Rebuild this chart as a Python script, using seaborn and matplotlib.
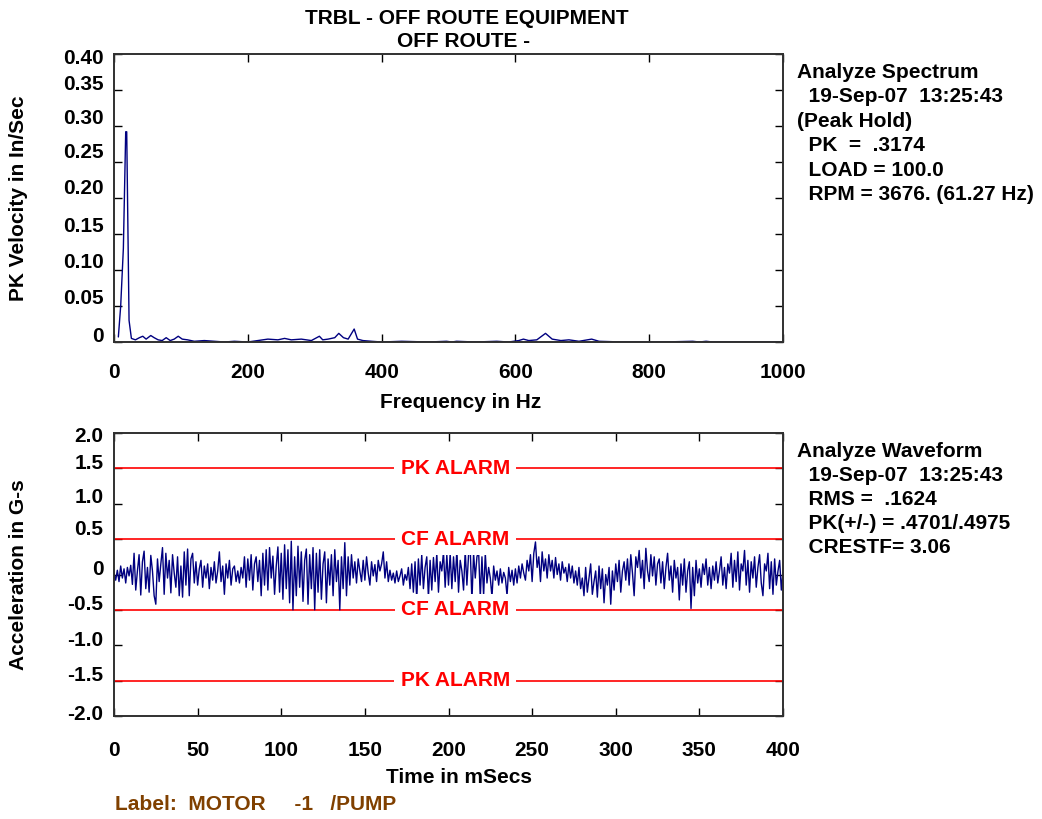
# Vibration analysis plot: peak-hold spectrum on top, time waveform with alarm bands below

import numpy as np
import pandas as pd
import matplotlib
matplotlib.use("Agg")
import matplotlib.pyplot as plt
import matplotlib.transforms as mtransforms
import seaborn as sns

# Step 1: chart data

# spectrum (Hz, in/sec)
spec_freq = [6.5, 10, 14, 17.5, 19, 22.5, 26, 32, 38, 43, 48, 55, 60, 66, 72, 78, 84,
             90, 96, 102, 110, 120, 135, 150, 165, 180, 200, 215, 230, 245, 255, 265, 280,
             295, 307, 312, 320, 330, 336, 343, 350, 359, 364, 372, 385, 400, 430, 470,
             497, 505, 512, 540, 572, 590, 605, 612, 620, 632, 645, 655, 668, 680, 695,
             714, 725, 760, 820, 865, 875, 885, 895, 920, 960, 1000]
spec_amp = [0.007, 0.05, 0.13, 0.292, 0.292, 0.030, 0.005, 0.003, 0.006, 0.008, 0.004,
            0.009, 0.006, 0.003, 0.002, 0.006, 0.002, 0.004, 0.008, 0.004, 0.003, 0.001,
            0.002, 0.001, 0.000, 0.001, 0.000, 0.002, 0.004, 0.003, 0.005, 0.003, 0.004,
            0.002, 0.008, 0.003, 0.004, 0.006, 0.012, 0.006, 0.004, 0.018, 0.004, 0.002,
            0.001, 0.000, 0.001, 0.000, 0.001, 0.000, 0.001, 0.000, 0.001, 0.000, 0.002,
            0.004, 0.002, 0.003, 0.012, 0.004, 0.002, 0.003, 0.001, 0.004, 0.001, 0.000,
            0.000, 0.001, 0.000, 0.001, 0.000, 0.000, 0.000, 0.000]

# waveform, one sample per ms (G-s)
wave_g = [
    0.02, -0.08, 0.06, -0.10, 0.12, -0.05, 0.08, -0.12, 0.10, -0.02, 0.13, -0.14, 0.30, -0.22, 0.05, 0.28, -0.29, 0.18, 0.33, -0.20,
    0.10, -0.25, 0.27, 0.05, -0.30, -0.42, 0.22, -0.10, 0.15, 0.38, -0.28, 0.30, -0.05, 0.20, -0.26, 0.28, 0.02, -0.18, 0.25, -0.30,
    0.12, -0.32, 0.32, -0.15, 0.36, -0.30, 0.22, 0.30, -0.12, 0.18, -0.15, 0.08, 0.20, -0.18, 0.12, -0.05, 0.15, -0.20, 0.10, -0.08,
    0.18, -0.12, 0.05, 0.32, -0.10, 0.12, -0.28, 0.15, -0.05, 0.20, -0.15, 0.08, 0.12, -0.10, 0.05, -0.12, 0.10, -0.05, 0.25, -0.18,
    0.22, -0.08, 0.28, -0.22, 0.15, 0.25, -0.10, 0.20, -0.30, 0.30, -0.15, 0.35, -0.22, 0.38, -0.05, 0.26, -0.28, 0.12, 0.39, -0.25,
    0.30, -0.35, 0.42, -0.20, 0.35, -0.40, 0.47, -0.50, 0.25, -0.30, 0.40, -0.18, 0.32, -0.38, 0.20, 0.36, -0.42, 0.28, -0.20, 0.38,
    -0.50, 0.30, -0.25, 0.35, -0.35, 0.15, 0.32, -0.40, 0.22, -0.15, 0.28, -0.30, 0.35, -0.10, 0.20, -0.50, 0.25, -0.20, 0.45, -0.30,
    0.25, -0.15, 0.28, -0.05, 0.18, -0.12, 0.22, 0.05, -0.10, 0.20, -0.08, 0.25, 0.02, -0.15, 0.18, -0.02, 0.14, -0.10, 0.20, 0.05,
    0.15, 0.32, -0.05, 0.18, -0.10, 0.06, -0.08, 0.02, -0.12, 0.05, -0.10, -0.02, 0.08, -0.15, 0.00, -0.08, 0.10, -0.20, 0.15, -0.25,
    0.18, -0.36, 0.22, -0.15, 0.28, -0.20, 0.10, 0.25, -0.33, 0.20, -0.22, 0.24, -0.10, 0.30, -0.25, 0.18, 0.05, 0.32, -0.18, 0.28,
    -0.15, 0.30, -0.20, 0.25, -0.10, 0.35, -0.25, 0.20, 0.05, -0.22, 0.34, -0.15, 0.28, 0.36, -0.38, 0.30, -0.05, 0.25, 0.33, -0.33,
    0.25, -0.30, 0.30, -0.12, 0.10, -0.05, -0.32, 0.12, -0.08, 0.05, -0.15, 0.08, -0.12, 0.03, -0.05, -0.30, 0.10, -0.10, 0.06, -0.15,
    0.08, -0.12, 0.12, -0.05, 0.15, 0.02, -0.08, 0.20, 0.05, 0.28, -0.10, 0.30, 0.46, 0.10, 0.25, -0.10, 0.32, 0.05, 0.22, -0.05,
    0.28, 0.05, 0.20, -0.05, 0.24, 0.00, 0.15, -0.08, 0.18, 0.02, 0.10, -0.10, 0.15, -0.05, 0.12, -0.12, 0.05, -0.15, 0.10, -0.20,
    -0.05, -0.30, 0.10, -0.25, -0.05, 0.15, -0.28, -0.10, 0.05, -0.32, 0.12, -0.20, 0.08, -0.40, 0.00, -0.15, 0.10, -0.42, 0.05, -0.22,
    0.15, -0.10, 0.20, -0.25, 0.05, 0.18, -0.08, 0.22, -0.15, 0.28, 0.02, -0.30, 0.25, 0.10, 0.34, -0.05, 0.20, -0.20, 0.37, 0.05,
    -0.10, 0.28, -0.02, 0.25, -0.15, 0.15, 0.22, -0.12, 0.18, -0.20, 0.10, 0.30, -0.08, 0.12, -0.25, 0.20, -0.05, 0.10, -0.36, 0.15,
    -0.15, 0.22, -0.25, 0.05, 0.18, -0.48, 0.10, -0.30, 0.20, -0.12, 0.08, -0.18, 0.15, 0.00, 0.22, -0.15, 0.10, -0.20, 0.12, -0.08,
    0.18, -0.12, 0.05, 0.25, -0.15, 0.10, -0.20, 0.15, 0.02, 0.30, -0.18, 0.20, -0.10, 0.32, -0.22, 0.15, 0.05, 0.34, -0.15, 0.20,
    -0.25, 0.18, -0.05, 0.25, -0.18, 0.10, 0.28, -0.12, -0.30, 0.15, 0.05, 0.30, -0.20, 0.18, -0.28, 0.22, -0.15, 0.05, 0.20, -0.22, 0.05,
]
wave_step_ms = 1.0

alarm_levels = [1.5, 0.5, -0.5, -1.5]
alarm_names = ["PK ALARM", "CF ALARM", "CF ALARM", "PK ALARM"]
alarm_label_time = 204

spec_xticks = [0, 200, 400, 600, 800, 1000]
spec_yticks = [0, 0.05, 0.10, 0.15, 0.20, 0.25, 0.30, 0.35, 0.40]
spec_yticklabels = ["0", "0.05", "0.10", "0.15", "0.20", "0.25", "0.30", "0.35", "0.40"]
wave_xticks = [0, 50, 100, 150, 200, 250, 300, 350, 400]
wave_yticks = [-2.0, -1.5, -1.0, -0.5, 0, 0.5, 1.0, 1.5, 2.0]
wave_yticklabels = ["-2.0", "-1.5", "-1.0", "-0.5", "0", "0.5", "1.0", "1.5", "2.0"]

title_lines = ["TRBL - OFF ROUTE EQUIPMENT", "OFF ROUTE -"]
spec_info = ["Analyze Spectrum", "  19-Sep-07  13:25:43", "(Peak Hold)",
             "  PK  =  .3174", "  LOAD = 100.0", "  RPM = 3676. (61.27 Hz)"]
wave_info = ["Analyze Waveform", "  19-Sep-07  13:25:43", "  RMS =  .1624",
             "  PK(+/-) = .4701/.4975", "  CRESTF= 3.06"]
point_label = "Label:  MOTOR     -1   /PUMP"

# Step 2: style
sns.set_style("white")
plt.rcParams['font.family'] = ['Liberation Sans', 'DejaVu Sans']
plt.rcParams['font.weight'] = 'bold'
plt.rcParams['font.size'] = 15
plt.rcParams['text.color'] = 'black'
plt.rcParams['axes.labelcolor'] = 'black'
plt.rcParams['xtick.color'] = 'black'
plt.rcParams['ytick.color'] = 'black'

W, H = 1042, 819
fig = plt.figure(figsize=(W / 100, H / 100), dpi=100)

def px_box(left, top, right, bottom):
    return [left / W, 1 - bottom / H, (right - left) / W, (bottom - top) / H]

def style_axes(ax, xpad):
    for sp in ax.spines.values():
        sp.set_color("#303030")
        sp.set_linewidth(1.4)
    ax.tick_params(direction='in', length=6, width=1, color='black',
                   top=True, right=True, bottom=True, left=True,
                   labelsize=15, labelcolor='black')
    ax.tick_params(axis='x', pad=xpad)
    ax.tick_params(axis='y', pad=7.5)
    for lab in ax.get_xticklabels() + ax.get_yticklabels():
        lab.set_fontweight('bold')

def nudge_ylabels(ax, shifts_px):
    # the old plotter printed the y labels a few pixels off the tick marks
    for tick, dy in zip(ax.yaxis.get_major_ticks(), shifts_px):
        off = mtransforms.ScaledTranslation(0, dy / 100, fig.dpi_scale_trans)
        tick.label1.set_transform(tick.label1.get_transform() + off)

# Step 3: spectrum panel
ax1 = fig.add_axes(px_box(114, 54, 783, 342))
spec = pd.DataFrame({'freq': spec_freq, 'amp': spec_amp})
sns.lineplot(data=spec, x='freq', y='amp', ax=ax1, color='#000080', lw=1, estimator=None)
ax1.set_xlim(0, 1000)
ax1.set_ylim(0, 0.40)
ax1.set_xticks(spec_xticks)
ax1.set_xticklabels([str(v) for v in spec_xticks])
ax1.set_yticks(spec_yticks)
ax1.set_yticklabels(spec_yticklabels)
ax1.set_xlabel("")
ax1.set_ylabel("PK Velocity in In/Sec", fontweight='bold', fontsize=15)
ax1.yaxis.set_label_coords(-0.128, 0.5)
style_axes(ax1, 15)
nudge_ylabels(ax1, [8, 10, 10, 10, 11, 12, 9, 7, -3])

# Step 4: waveform panel with alarm levels
ax2 = fig.add_axes(px_box(114, 433, 783, 716))
wave = pd.DataFrame({'t': np.arange(len(wave_g)) * wave_step_ms, 'g': wave_g})
sns.lineplot(data=wave, x='t', y='g', ax=ax2, color='#000080', lw=1, estimator=None)
for level, name in zip(alarm_levels, alarm_names):
    ax2.axhline(level, color='red', lw=1.2, zorder=1)
    ax2.text(alarm_label_time, level, name, color='red', fontsize=15, fontweight='bold',
             ha='center', va='center', zorder=5,
             bbox=dict(facecolor='white', edgecolor='none', boxstyle='square,pad=0.3'))
ax2.set_xlim(0, 400)
ax2.set_ylim(-2.0, 2.0)
ax2.set_xticks(wave_xticks)
ax2.set_xticklabels([str(v) for v in wave_xticks])
ax2.set_yticks(wave_yticks)
ax2.set_yticklabels(wave_yticklabels)
ax2.set_xlabel("")
ax2.set_ylabel("Acceleration in G-s", fontweight='bold', fontsize=15)
ax2.yaxis.set_label_coords(-0.128, 0.5)
style_axes(ax2, 18)
nudge_ylabels(ax2, [4, 7, 7, 7, 7, 12, 8, 7, -2])

# Step 5: titles, axis captions and info blocks
fig.text(467 / W, 1 - 24 / H, title_lines[0], ha='center', va='baseline', fontsize=15, fontweight='bold')
fig.text(464 / W, 1 - 47 / H, title_lines[1], ha='center', va='baseline', fontsize=15, fontweight='bold')
fig.text(461 / W, 1 - 408 / H, "Frequency in Hz", ha='center', va='baseline', fontsize=15, fontweight='bold')
fig.text(459 / W, 1 - 783 / H, "Time in mSecs", ha='center', va='baseline', fontsize=15, fontweight='bold')

for i, line in enumerate(spec_info):
    fig.text(797 / W, 1 - (78 + 24.4 * i) / H, line, ha='left', va='baseline', fontsize=15, fontweight='bold')
for i, line in enumerate(wave_info):
    fig.text(797 / W, 1 - (457 + 24 * i) / H, line, ha='left', va='baseline', fontsize=15, fontweight='bold')

fig.text(115 / W, 1 - 810 / H, point_label, ha='left', va='baseline', fontsize=15,
         fontweight='bold', color='#804000')

plt.savefig("out.png", dpi=100)
